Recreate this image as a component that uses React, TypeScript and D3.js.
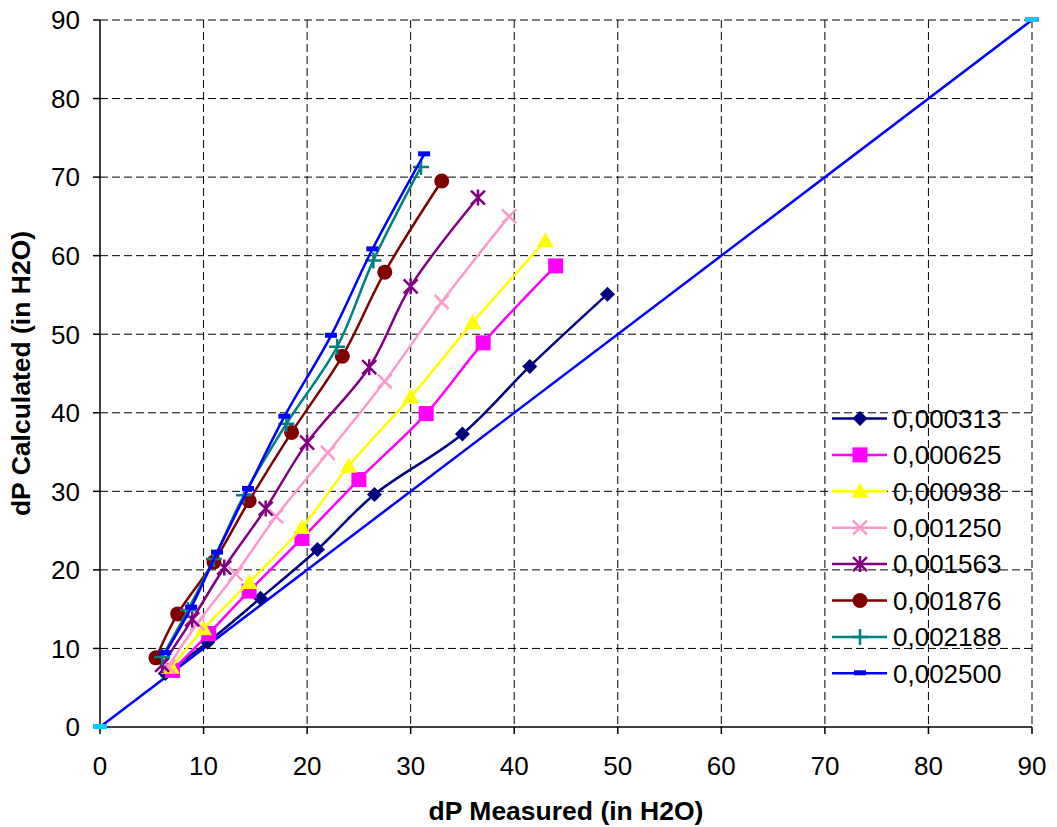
import React from "react";
import * as d3 from "d3";

const seriesNames = ["0,000313", "0,000625", "0,000938", "0,001250", "0,001563", "0,001876", "0,002188", "0,002500"];
const seriesColors = ["#000080", "#FF00FF", "#FFFF00", "#FF99CC", "#800080", "#800000", "#008080", "#0000FF"];
const seriesMarkers = ["diamond", "square", "triangle", "x", "asterisk", "circle", "plus", "dash"];

const x313 = [6.3, 10.4, 15.5, 21.0, 26.5, 35.0, 41.5, 49.0];
const y313 = [6.8, 10.8, 16.4, 22.6, 29.6, 37.3, 45.9, 55.1];
const x625 = [7.0, 10.5, 14.4, 19.5, 25.0, 31.5, 37.0, 44.0];
const y625 = [7.2, 11.9, 17.3, 24.0, 31.5, 39.9, 48.9, 58.7];
const x938 = [6.9, 10.0, 14.4, 19.5, 24.0, 30.0, 36.0, 43.0];
const y938 = [7.6, 12.5, 18.4, 25.4, 33.2, 42.0, 51.5, 61.9];
const x1250 = [6.6, 9.4, 13.1, 17.0, 22.0, 27.5, 33.0, 39.5];
const y1250 = [7.7, 13.2, 19.5, 26.8, 34.9, 44.0, 54.1, 65.0];
const x1563 = [6.0, 8.9, 12.0, 16.0, 20.0, 26.0, 30.0, 36.5];
const y1563 = [7.9, 13.7, 20.3, 27.8, 36.2, 45.8, 56.1, 67.4];
const x1876 = [5.4, 7.5, 11.0, 14.4, 18.5, 23.4, 27.5, 33.0];
const y1876 = [8.8, 14.4, 21.0, 28.8, 37.5, 47.2, 57.9, 69.5];
const x2188 = [6.0, 8.5, 11.0, 13.9, 18.0, 22.9, 26.4, 31.0];
const y2188 = [8.9, 14.9, 21.4, 29.5, 38.6, 48.4, 59.4, 71.3];
const x2500 = [6.3, 8.8, 11.3, 14.3, 17.8, 22.3, 26.3, 31.3];
const y2500 = [9.4, 15.2, 22.2, 30.3, 39.5, 49.8, 60.8, 72.9];

const refX = [0, 90];
const refY = [0, 90];

const xTicks = [0, 10, 20, 30, 40, 50, 60, 70, 80, 90];
const yTicks = [0, 10, 20, 30, 40, 50, 60, 70, 80, 90];

const xTitle = "dP Measured (in H2O)";
const yTitle = "dP Calculated (in H2O)";

const seriesX = [x313, x625, x938, x1250, x1563, x1876, x2188, x2500];
const seriesY = [y313, y625, y938, y1250, y1563, y1876, y2188, y2500];

const FONT = "'Liberation Sans', Arial, sans-serif";

function Marker({ type, x, y, color }: { type: string; x: number; y: number; color: string }) {
  switch (type) {
    case "diamond":
      return <path d={`M${x},${y - 7.5}L${x + 7.5},${y}L${x},${y + 7.5}L${x - 7.5},${y}Z`} fill={color} />;
    case "square":
      return <rect x={x - 7.5} y={y - 7.5} width={15} height={15} fill={color} />;
    case "triangle":
      return <path d={`M${x},${y - 8.5}L${x + 8.5},${y + 6.5}L${x - 8.5},${y + 6.5}Z`} fill={color} />;
    case "x":
      return (
        <path d={`M${x - 7},${y - 7}L${x + 7},${y + 7}M${x - 7},${y + 7}L${x + 7},${y - 7}`} stroke={color} strokeWidth={2.5} />
      );
    case "asterisk":
      return (
        <path
          d={`M${x - 7},${y - 7}L${x + 7},${y + 7}M${x - 7},${y + 7}L${x + 7},${y - 7}M${x},${y - 8}L${x},${y + 8}`}
          stroke={color}
          strokeWidth={2.5}
        />
      );
    case "circle":
      return <circle cx={x} cy={y} r={7.5} fill={color} />;
    case "plus":
      return <path d={`M${x - 8},${y}L${x + 8},${y}M${x},${y - 8}L${x},${y + 8}`} stroke={color} strokeWidth={2.5} />;
    case "dash":
      return <rect x={x - 6} y={y - 3} width={12} height={5} fill={color} />;
    default:
      return null;
  }
}

export default function App() {
  const W = 1057;
  const H = 827;
  const left = 100;
  const right = 1032;
  const top = 20;
  const bottom = 727;

  const xs = d3.scaleLinear().domain([0, 90]).range([left, right]);
  const ys = d3.scaleLinear().domain([0, 90]).range([bottom, top]);

  const line = d3
    .line<[number, number]>()
    .x((d) => xs(d[0]))
    .y((d) => ys(d[1]))
    .curve(d3.curveCatmullRom.alpha(0.5));

  const refLine = d3
    .line<[number, number]>()
    .x((d) => xs(d[0]))
    .y((d) => ys(d[1]));

  const refPts: [number, number][] = refX.map((v, i) => [v, refY[i]]);

  const legendX = 832;
  const legendY0 = 418.5;
  const legendStep = 36.4;

  return (
    <div style={{ position: "absolute", left: 0, top: 0, width: W, height: H, background: "#fff" }}>
      <svg width={W} height={H} style={{ display: "block" }} fontFamily={FONT}>
        <rect x={0} y={0} width={W} height={H} fill="#fff" />
        {/* gridlines */}
        {xTicks.slice(1).map((t) => (
          <line key={"gx" + t} x1={xs(t)} x2={xs(t)} y1={top} y2={bottom} stroke="#000" strokeWidth={1} strokeDasharray="8,4" />
        ))}
        {yTicks.slice(1).map((t) => (
          <line key={"gy" + t} x1={left} x2={right} y1={ys(t)} y2={ys(t)} stroke="#000" strokeWidth={1} strokeDasharray="8,4" />
        ))}
        {/* axes */}
        <line x1={left} x2={left} y1={top} y2={bottom} stroke="#000" strokeWidth={1.5} />
        <line x1={left} x2={right} y1={bottom} y2={bottom} stroke="#000" strokeWidth={1.5} />
        {xTicks.map((t) => (
          <g key={"tx" + t}>
            <line x1={xs(t)} x2={xs(t)} y1={bottom} y2={bottom + 7} stroke="#000" strokeWidth={1.5} />
            <text x={xs(t)} y={775} textAnchor="middle" fontSize={26} fill="#000">
              {t}
            </text>
          </g>
        ))}
        {yTicks.map((t) => (
          <g key={"ty" + t}>
            <line x1={left - 7} x2={left} y1={ys(t)} y2={ys(t)} stroke="#000" strokeWidth={1.5} />
            <text x={80} y={ys(t) + 9.3} textAnchor="end" fontSize={26} fill="#000">
              {t}
            </text>
          </g>
        ))}
        {/* reference line */}
        <path d={refLine(refPts) || ""} fill="none" stroke="#0000FF" strokeWidth={2.5} />
        {refPts.map((p, i) => (
          <rect key={"rp" + i} x={xs(p[0]) - 7} y={ys(p[1]) - 3} width={14} height={5} fill="#00CCFF" />
        ))}
        {/* series */}
        {seriesNames.map((name, si) => {
          const pts: [number, number][] = seriesX[si].map((v, i) => [v, seriesY[si][i]]);
          return (
            <g key={name}>
              <path d={line(pts) || ""} fill="none" stroke={seriesColors[si]} strokeWidth={2.5} />
              {pts.map((p, i) => (
                <Marker key={i} type={seriesMarkers[si]} x={xs(p[0])} y={ys(p[1])} color={seriesColors[si]} />
              ))}
            </g>
          );
        })}
        {/* legend */}
        {seriesNames.map((name, si) => {
          const cy = legendY0 + si * legendStep;
          return (
            <g key={"lg" + name}>
              <line x1={legendX} x2={legendX + 55} y1={cy} y2={cy} stroke={seriesColors[si]} strokeWidth={2.5} />
              <Marker type={seriesMarkers[si]} x={legendX + 28} y={cy} color={seriesColors[si]} />
              <text x={893} y={cy + 9.3} fontSize={26} fill="#000">
                {name}
              </text>
            </g>
          );
        })}
        {/* axis titles */}
        <text x={566} y={820} textAnchor="middle" fontSize={26.5} fontWeight="bold" fill="#000">
          {xTitle}
        </text>
        <text
          transform={`translate(30,373.5) rotate(-90)`}
          textAnchor="middle"
          fontSize={26.5}
          fontWeight="bold"
          fill="#000"
        >
          {yTitle}
        </text>
      </svg>
    </div>
  );
}
